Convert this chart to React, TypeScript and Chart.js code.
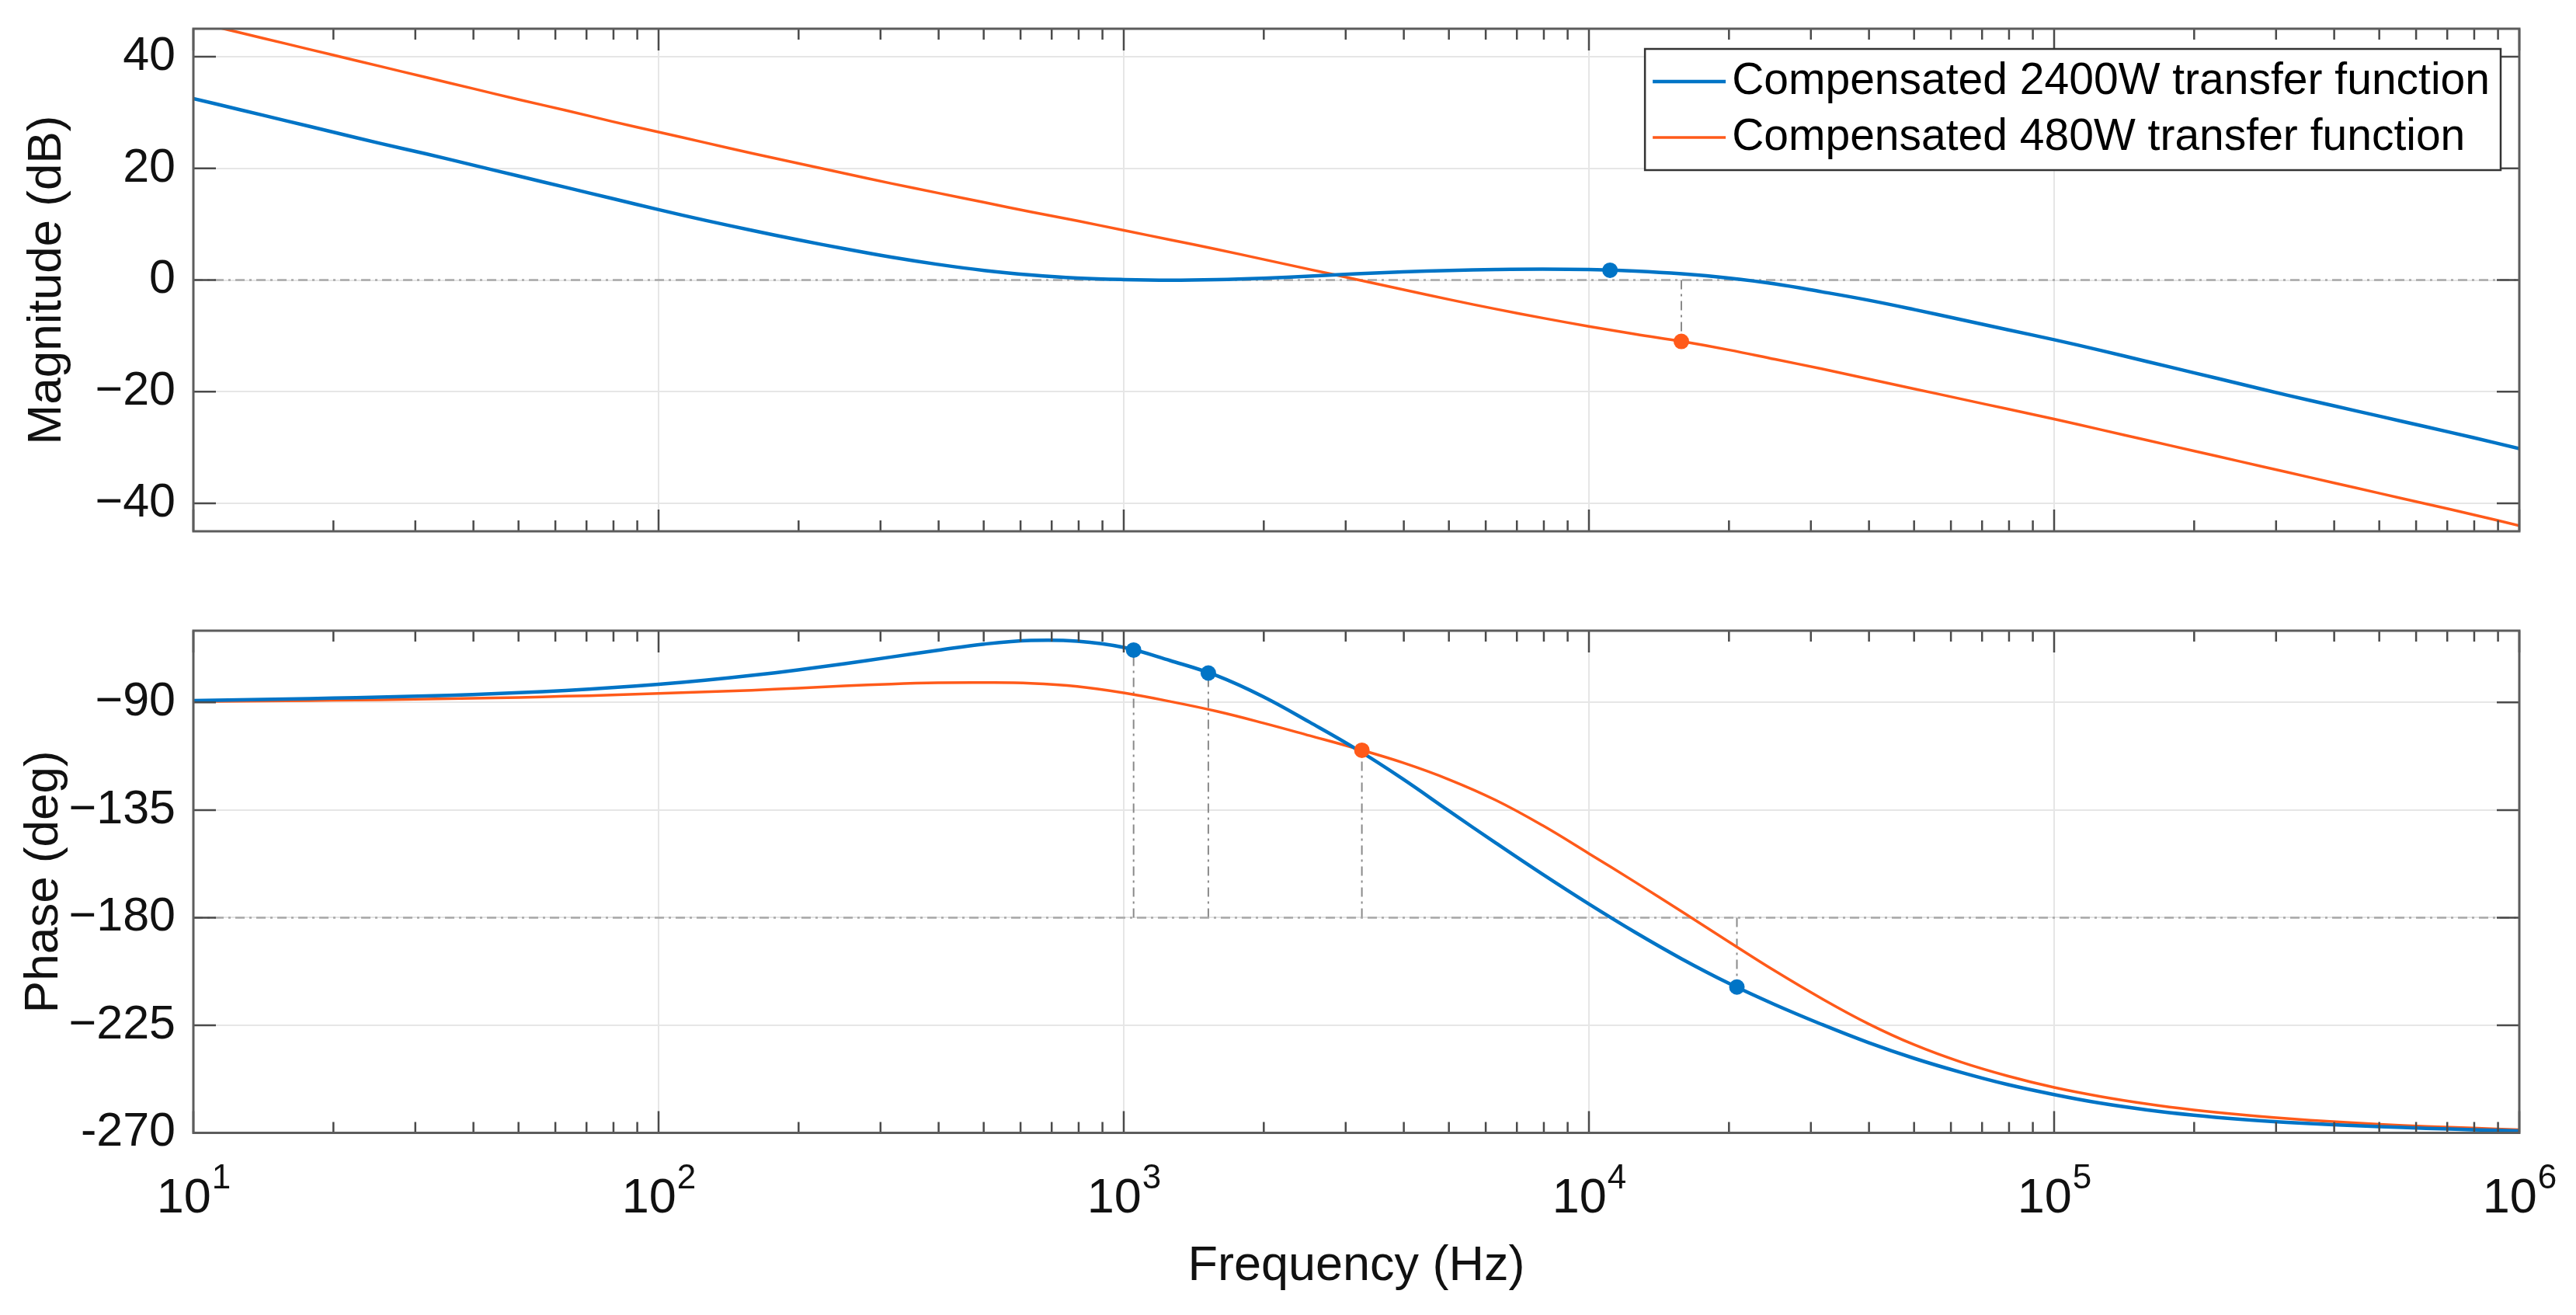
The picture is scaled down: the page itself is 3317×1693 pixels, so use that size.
import { useEffect, useRef } from "react"
import { Chart, registerables, type ChartConfiguration, type Plugin } from "chart.js"

Chart.register(...registerables)

// frequency grid (Hz), one point every 0.1 decade
const FREQ = [
  10, 12.59, 15.85, 19.95, 25.12, 31.62, 39.81, 50.12, 63.1, 79.43, 100, 125.9, 158.5, 199.5, 251.2, 316.2,
  398.1, 501.2, 631, 794.3, 1000, 1259, 1585, 1995, 2512, 3162, 3981, 5012, 6310, 7943, 10000, 12589, 15849,
  19953, 25119, 31623, 39811, 50119, 63096, 79433, 100000, 125893, 158489, 199526, 251189, 316228, 398107,
  501187, 630957, 794328, 1000000,
]

const MAG_2400 = [
  32.5, 30.5, 28.5, 26.5, 24.5, 22.6, 20.6, 18.6, 16.6, 14.6, 12.6, 10.7, 8.9, 7.2, 5.6, 4.1, 2.8, 1.7, 0.9,
  0.35, 0.08, -0.02, 0.08, 0.33, 0.7, 1.1, 1.45, 1.72, 1.88, 1.95, 1.88, 1.6, 1.1, 0.35, -0.7, -2.1, -3.6, -5.3,
  -7.1, -8.9, -10.7, -12.6, -14.6, -16.6, -18.6, -20.6, -22.5, -24.4, -26.3, -28.2, -30.2,
]
const MAG_480 = [
  46.3, 44.3, 42.3, 40.3, 38.3, 36.3, 34.3, 32.3, 30.4, 28.4, 26.5, 24.6, 22.7, 20.9, 19.1, 17.3, 15.6, 13.9,
  12.2, 10.6, 8.9, 7.2, 5.5, 3.7, 1.9, 0.1, -1.7, -3.5, -5.2, -6.8, -8.3, -9.7, -11.0, -12.5, -14.2, -15.9,
  -17.7, -19.5, -21.3, -23.1, -24.9, -26.8, -28.7, -30.6, -32.5, -34.4, -36.3, -38.2, -40.1, -42.0, -44.0,
]
const PH_2400 = [
  -89.2, -88.9, -88.6, -88.2, -87.8, -87.3, -86.7, -85.9, -85.0, -83.8, -82.4, -80.7, -78.7, -76.4, -73.8,
  -71.0, -68.2, -65.6, -64.1, -64.4, -67.0, -72.5, -78.8, -87.6, -98.3, -109.5, -122.0, -135.5, -148.8,
  -161.8, -174.3, -186.2, -197.3, -207.4, -216.4, -224.6, -232.2, -238.9, -244.7, -249.8, -254.0, -257.6,
  -260.4, -262.6, -264.3, -265.6, -266.6, -267.4, -268.1, -268.7, -269.2,
]
const PH_480 = [
  -89.6, -89.45, -89.3, -89.1, -88.9, -88.6, -88.3, -87.9, -87.4, -86.9, -86.2, -85.6, -84.9, -84.0, -83.1,
  -82.3, -81.8, -81.7, -82.0, -83.3, -86.0, -89.6, -93.7, -98.6, -103.9, -109.3, -115.2, -122.3, -130.9,
  -141.4, -153.2, -165.2, -177.5, -190.0, -202.3, -213.8, -224.3, -233.2, -240.4, -246.2, -251.0, -254.8,
  -257.9, -260.4, -262.4, -264.0, -265.3, -266.4, -267.3, -268.0, -268.7,
]

// margin markers
const MAG_MARK_F_2400 = [11100]
const MAG_MARK_V_2400 = [1.75]
const MAG_MARK_F_480 = [15800]
const MAG_MARK_V_480 = [-11.0]
const PH_MARK_F_2400 = [1050, 1520, 20800]
const PH_MARK_V_2400 = [-68.1, -77.7, -209.0]
const PH_MARK_F_480 = [3250]
const PH_MARK_V_480 = [-110.0]

const DECADES = [10, 100, 1000, 10000, 100000, 1000000]
const MAG_TICKS = [-40, -20, 0, 20, 40]
const MAG_TICK_LABELS = ["\u221240", "\u221220", "0", "20", "40"]
const PH_TICKS = [-270, -225, -180, -135, -90]
const PH_TICK_LABELS = ["-270", "\u2212225", "\u2212180", "\u2212135", "\u221290"]

const LABEL_2400 = "Compensated 2400W transfer function"
const LABEL_480 = "Compensated 480W transfer function"

const FONT = "'Liberation Sans', Arial, Helvetica, sans-serif"
const BLUE = "#0074C6"
const ORANGE = "#FF5A1A"
const TEXT = "#111111"
const GRID = "#e6e6e6"
const REF = "#a8a8a8"
const VREF = "#8a8a8a"
const DASH_DOT = [12, 6, 3, 6]

const pts = (fs: number[], vs: number[]) => fs.map((f, i) => ({ x: f, y: vs[i] }))

function series(label: string, vs: number[], color: string, width: number) {
  return {
    label,
    data: pts(FREQ, vs),
    showLine: true,
    borderColor: color,
    backgroundColor: color,
    borderWidth: width,
    pointRadius: 0,
    tension: 0.4,
    order: 1,
  }
}

function markers(fs: number[], vs: number[], color: string) {
  return {
    data: pts(fs, vs),
    showLine: false,
    pointRadius: 10,
    pointHoverRadius: 10,
    pointBackgroundColor: color,
    pointBorderColor: color,
    pointBorderWidth: 0,
    order: 0,
  }
}

function refLine(data: { x: number; y: number }[], color: string, width: number) {
  return {
    data,
    showLine: true,
    borderColor: color,
    borderWidth: width,
    borderDash: DASH_DOT,
    pointRadius: 0,
    tension: 0,
    order: 2,
  }
}

// vertical dash-dot lines from a reference level to each marker
const vLines = (fs: number[], vs: number[], level: number) =>
  fs.map((f, i) => refLine([{ x: f, y: level }, { x: f, y: vs[i] }], VREF, 2))

// box, inward major/minor ticks like a MATLAB axes
const axesBox: Plugin = {
  id: "axesBox",
  afterDatasetsDraw(chart) {
    const { ctx, chartArea: a } = chart
    const xs: any = chart.scales.x
    const ys: any = chart.scales.y
    ctx.save()
    ctx.strokeStyle = "#4a4a4a"
    ctx.lineWidth = 2.5
    ctx.beginPath()
    DECADES.forEach((d, i) => {
      const px = xs.getPixelForValue(d)
      ctx.moveTo(px, a.bottom)
      ctx.lineTo(px, a.bottom - 28)
      ctx.moveTo(px, a.top)
      ctx.lineTo(px, a.top + 28)
      if (i < DECADES.length - 1) {
        for (let k = 2; k <= 9; k++) {
          const mx = xs.getPixelForValue(d * k)
          ctx.moveTo(mx, a.bottom)
          ctx.lineTo(mx, a.bottom - 14)
          ctx.moveTo(mx, a.top)
          ctx.lineTo(mx, a.top + 14)
        }
      }
    })
    ys.ticks.forEach((t: any) => {
      const py = ys.getPixelForValue(t.value)
      ctx.moveTo(a.left, py)
      ctx.lineTo(a.left + 29, py)
      ctx.moveTo(a.right, py)
      ctx.lineTo(a.right - 29, py)
    })
    ctx.stroke()
    ctx.strokeStyle = "#5c5c5c"
    ctx.lineWidth = 3
    ctx.strokeRect(a.left, a.top, a.right - a.left, a.bottom - a.top)
    ctx.restore()
  },
}

// 10^n tick labels under the lower axes
const powerLabels: Plugin = {
  id: "powerLabels",
  afterDraw(chart) {
    const { ctx, chartArea: a } = chart
    const xs: any = chart.scales.x
    ctx.save()
    ctx.fillStyle = TEXT
    ctx.textBaseline = "alphabetic"
    ctx.textAlign = "left"
    DECADES.forEach((d) => {
      const px = xs.getPixelForValue(d)
      const exp = String(Math.round(Math.log10(d)))
      ctx.font = `63px ${FONT}`
      const wb = ctx.measureText("10").width
      ctx.font = `44px ${FONT}`
      const we = ctx.measureText(exp).width
      const x0 = px - (wb + we) / 2
      ctx.font = `63px ${FONT}`
      ctx.fillText("10", x0, a.bottom + 102)
      ctx.font = `44px ${FONT}`
      ctx.fillText(exp, x0 + wb + 1, a.bottom + 71)
    })
    ctx.restore()
  },
}

// boxed legend in the upper right of the magnitude axes
const boxLegend: Plugin = {
  id: "boxLegend",
  afterDraw(chart) {
    const { ctx, chartArea: a } = chart
    const items: any[] = chart.data.datasets.filter((d: any) => d.label)
    ctx.save()
    ctx.font = `57px ${FONT}`
    const textW = Math.max(...items.map((d) => ctx.measureText(d.label).width))
    const boxW = 112 + textW + 14
    const boxH = 156
    const right = a.right - 24
    const top = a.top + 26
    const left = right - boxW
    ctx.fillStyle = "#ffffff"
    ctx.fillRect(left, top, boxW, boxH)
    ctx.strokeStyle = "#333333"
    ctx.lineWidth = 2.5
    ctx.strokeRect(left, top, boxW, boxH)
    items.forEach((d, i) => {
      const cy = top + 42 + i * 72
      ctx.strokeStyle = d.borderColor
      ctx.lineWidth = d.borderWidth
      ctx.beginPath()
      ctx.moveTo(left + 10, cy)
      ctx.lineTo(left + 104, cy)
      ctx.stroke()
      ctx.fillStyle = "#000000"
      ctx.textBaseline = "middle"
      ctx.textAlign = "left"
      ctx.fillText(d.label, left + 112, cy)
    })
    ctx.restore()
  },
}

function baseOptions(opts: {
  padTop: number
  xHeight: number
  yMin: number
  yMax: number
  yTicks: number[]
  yLabels: string[]
  yTitle: string
  yTitlePad: number
  xTitle?: string
}): any {
  return {
    animation: false,
    responsive: true,
    maintainAspectRatio: false,
    layout: { padding: { top: opts.padTop, right: 73, left: 0, bottom: 0 } },
    plugins: { legend: { display: false }, tooltip: { enabled: false } },
    events: [],
    scales: {
      x: {
        type: "logarithmic",
        min: 10,
        max: 1000000,
        afterBuildTicks: (s: any) => {
          s.ticks = DECADES.map((v) => ({ value: v }))
        },
        afterFit: (s: any) => {
          s.height = opts.xHeight
          s.paddingLeft = 0
          s.paddingRight = 0
        },
        ticks: { display: false },
        grid: { color: GRID, lineWidth: 2, drawTicks: false },
        border: { display: false },
        title: {
          display: !!opts.xTitle,
          text: opts.xTitle ?? "",
          color: TEXT,
          font: { family: FONT, size: 63, lineHeight: 1 },
          padding: { top: 0, bottom: 30.5 },
        },
      },
      y: {
        min: opts.yMin,
        max: opts.yMax,
        afterBuildTicks: (s: any) => {
          s.ticks = opts.yTicks.map((v) => ({ value: v }))
        },
        afterFit: (s: any) => {
          s.width = 249
          s.paddingTop = 0
          s.paddingBottom = 0
        },
        ticks: {
          color: TEXT,
          padding: 23,
          font: { family: FONT, size: 61 },
          callback: (v: any) => opts.yLabels[opts.yTicks.indexOf(Number(v))] ?? "",
        },
        grid: { color: GRID, lineWidth: 2, drawTicks: false },
        border: { display: false },
        title: {
          display: true,
          text: opts.yTitle,
          color: TEXT,
          font: { family: FONT, size: 62, lineHeight: 1 },
          padding: { top: opts.yTitlePad, bottom: 0 },
        },
      },
    },
  }
}

function useChart(makeConfig: () => ChartConfiguration) {
  const ref = useRef<HTMLCanvasElement>(null)
  useEffect(() => {
    if (!ref.current) return
    const chart = new Chart(ref.current, makeConfig())
    return () => chart.destroy()
  }, [])
  return ref
}

function MagnitudeChart() {
  const ref = useChart(() => ({
    type: "scatter",
    data: {
      datasets: [
        markers(MAG_MARK_F_2400, MAG_MARK_V_2400, BLUE),
        markers(MAG_MARK_F_480, MAG_MARK_V_480, ORANGE),
        series(LABEL_2400, MAG_2400, BLUE, 4.5),
        series(LABEL_480, MAG_480, ORANGE, 3.5),
        refLine([{ x: 10, y: 0 }, { x: 1000000, y: 0 }], REF, 2.5),
        ...vLines(MAG_MARK_F_480, MAG_MARK_V_480, 0),
      ] as any,
    },
    options: baseOptions({
      padTop: 37,
      xHeight: 56,
      yMin: -45,
      yMax: 45,
      yTicks: MAG_TICKS,
      yLabels: MAG_TICK_LABELS,
      yTitle: "Magnitude (dB)",
      yTitlePad: 30,
    }),
    plugins: [axesBox, boxLegend],
  }))
  return <canvas ref={ref} />
}

function PhaseChart() {
  const ref = useChart(() => ({
    type: "scatter",
    data: {
      datasets: [
        markers(PH_MARK_F_2400, PH_MARK_V_2400, BLUE),
        markers(PH_MARK_F_480, PH_MARK_V_480, ORANGE),
        series(LABEL_2400, PH_2400, BLUE, 4.5),
        series(LABEL_480, PH_480, ORANGE, 3.5),
        refLine([{ x: 10, y: -180 }, { x: 1000000, y: -180 }], REF, 2.5),
        ...vLines(PH_MARK_F_2400, PH_MARK_V_2400, -180),
        ...vLines(PH_MARK_F_480, PH_MARK_V_480, -180),
      ] as any,
    },
    options: baseOptions({
      padTop: 72,
      xHeight: 234.5,
      yMin: -270,
      yMax: -60,
      yTicks: PH_TICKS,
      yLabels: PH_TICK_LABELS,
      yTitle: "Phase (deg)",
      yTitlePad: 26,
      xTitle: "Frequency (Hz)",
    }),
    plugins: [axesBox, powerLabels],
  }))
  return <canvas ref={ref} />
}

export default function App() {
  return (
    <div
      style={{
        position: "absolute",
        left: 0,
        top: 0,
        width: 3317,
        height: 1693,
        background: "#ffffff",
        overflow: "hidden",
      }}
    >
      <div style={{ position: "absolute", left: 0, top: 0, width: 3317, height: 740 }}>
        <MagnitudeChart />
      </div>
      <div style={{ position: "absolute", left: 0, top: 740, width: 3317, height: 953 }}>
        <PhaseChart />
      </div>
    </div>
  )
}
